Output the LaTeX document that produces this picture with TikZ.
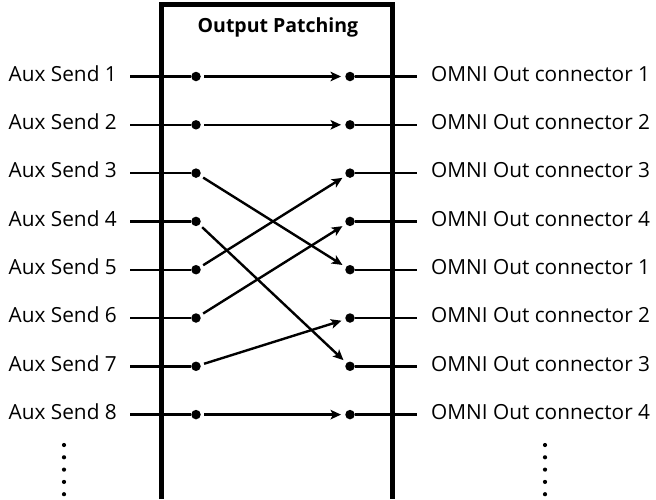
\documentclass[tikz,border=0pt]{standalone}
\usepackage{fontspec}
\setmainfont{Open Sans}
\usetikzlibrary{arrows.meta}
\begin{document}
\begin{tikzpicture}[x=1pt,y=-1pt,
  lbl/.style={inner sep=0pt,font=\fontsize{20.8}{24}\selectfont},
  pdot/.style={circle,fill=black,inner sep=0pt,minimum size=9.5pt},
  edot/.style={circle,fill=black,inner sep=0pt,minimum size=4.2pt},
  wire/.style={line width=2.4pt},
  patch/.style={line width=2.4pt,-{Stealth[length=10.5pt,width=9.5pt,inset=2.5pt]},shorten <=3.5pt,shorten >=4pt},
  boxline/.style={line width=5pt,line join=miter}]
\useasboundingbox (0,0) rectangle (656,499);
\foreach \i/\n in {1/1,2/2,3/3,4/4,5/1,6/2,7/3,8/4}{
  \pgfmathsetmacro{\yy}{76.5+(\i-1)*48.3}
  \pgfmathsetmacro{\yb}{\yy+4.7}
  \coordinate (ab\i) at (117,\yb);
  \coordinate (ob\i) at (431,\yb);
  \node[lbl,anchor=base east] (a\i) at (ab\i) {Aux Send \i};
  \node[pdot] (l\i) at (196,\yy) {};
  \node[pdot] (r\i) at (350,\yy) {};
  \node[lbl,anchor=base west] (o\i) at (ob\i) {OMNI Out connector \n};
  \draw[wire] (130,\yy) -- (l\i);
  \draw[wire] (r\i) -- (417,\yy);
}
\draw[boxline] (161,499) -- (161,4) -- (392,4) -- (392,499);
\node[inner sep=0pt,anchor=base,font=\fontsize{19.5}{22}\selectfont\bfseries] (title) at (278,32) {Output Patching};
\draw[patch] (l1) -- (r1);
\draw[patch] (l2) -- (r2);
\draw[patch] (l3) -- (r5);
\draw[patch] (l4) -- (r7);
\draw[patch] (l5) -- (r3);
\draw[patch] (l6) -- (r4);
\draw[patch] (l7) -- (r6);
\draw[patch] (l8) -- (r8);
\foreach \k in {0,...,4}{
  \node[edot] (ld\k) at (64,445+\k*12.3) {};
  \node[edot] (rd\k) at (545,445+\k*12.3) {};
}
\end{tikzpicture}
\end{document}
